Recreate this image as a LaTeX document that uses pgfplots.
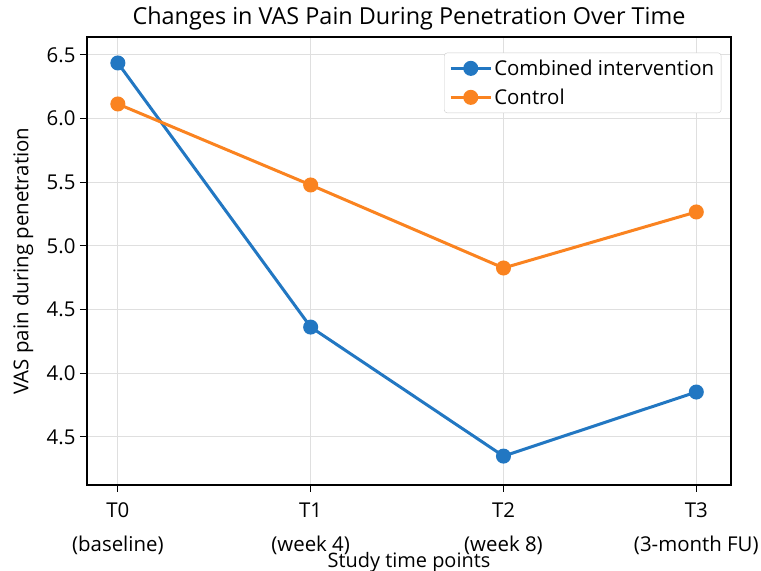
\documentclass[border=0pt]{standalone}
\usepackage{fontspec}
\setmainfont{Open Sans}
\usepackage{pgfplots}
\pgfplotsset{compat=1.18}
\definecolor{cblue}{HTML}{2277C2}
\definecolor{corange}{HTML}{FA8320}
\begin{document}
\begin{tikzpicture}[x=1bp,y=1bp]
\path[use as bounding box] (-87,-86) rectangle (674,485);
\begin{axis}[
  at={(0,0)}, anchor=south west,
  scale only axis, width=644bp, height=448bp,
  xmin=-0.16, xmax=3.18, ymin=3.123, ymax=6.641,
  xtick={0,1,2,3},
  xticklabels={{T0\\[10bp](baseline)},{T1\\[10bp](week 4)},{T2\\[10bp](week 8)},{T3\\[10bp](3-month FU)}},
  xticklabel style={align=center, font=\fontsize{20.5}{24}\selectfont, yshift=-7bp},
  ytick={3.5,4.0,4.5,5.0,5.5,6.0,6.5},
  yticklabels={4.5,4.0,4.5,5.0,5.5,6.0,6.5},
  yticklabel style={font=\fontsize{20.5}{24}\selectfont, xshift=-1bp},
  tick align=outside, tick pos=left,
  major tick length=7bp,
  tick style={black, line width=1bp},
  grid=major, grid style={gray!25, line width=1bp},
  axis line style={black, line width=1.2bp},
  title={Changes in VAS Pain During Penetration Over Time},
  title style={font=\fontsize{23.5}{28}\selectfont, at={(axis description cs:0.5,1)}, anchor=center, yshift=13bp},
  xlabel={Study time points},
  xlabel style={font=\fontsize{20}{24}\selectfont, at={(axis description cs:0.5,0)}, anchor=center, yshift=-77bp},
  ylabel={VAS pain during penetration},
  ylabel style={font=\fontsize{20.5}{24}\selectfont, at={(axis description cs:0,0.5)}, anchor=center, yshift=64bp},
  legend style={at={(0.985,0.965)}, anchor=north east, draw=gray!40, rounded corners=3bp,
    font=\fontsize{20.5}{24}\selectfont, row sep=8bp, inner sep=5bp},
  legend cell align=left,
  legend image code/.code={
    \draw[#1] (0bp,0bp) -- (40bp,0bp);
    \draw[#1, mark repeat=2, mark phase=2] plot coordinates {(0bp,0bp) (20bp,0bp) (40bp,0bp)};
  },
]
\addplot[cblue, line width=3bp, mark=*, mark size=6bp, mark options={fill=cblue, draw=cblue}]
  coordinates {(0,6.437) (1,4.363) (2,3.35) (3,3.853)};
\addlegendentry{Combined intervention}
\addplot[corange, line width=3bp, mark=*, mark size=6bp, mark options={fill=corange, draw=corange}]
  coordinates {(0,6.115) (1,5.479) (2,4.827) (3,5.267)};
\addlegendentry{Control}
\end{axis}
\end{tikzpicture}
\end{document}
